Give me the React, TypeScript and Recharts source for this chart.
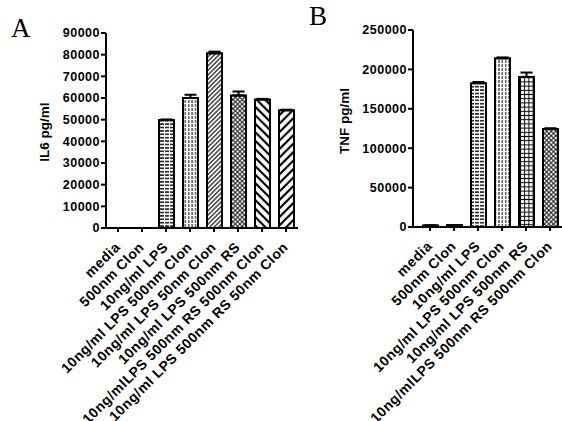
import React from "react";
import { BarChart, Bar, XAxis, YAxis, Cell, ErrorBar } from "recharts";

const il6Labels = [
  "media",
  "500nm Clon",
  "10ng/ml LPS",
  "10ng/ml LPS 500nm Clon",
  "10ng/ml LPS 50nm Clon",
  "10ng/ml LPS 500nm RS",
  "10ng/mlLPS 500nm RS 500nm Clon",
  "10ng/ml LPS 500nm RS 50nm Clon",
];
const il6Values = [0, 0, 49800, 60000, 80600, 61200, 59300, 54300];
const il6Errors = [0, 0, 300, 1500, 800, 1800, 300, 300];
const il6Fills = ["none", "none", "hlines", "vlines", "fineDiag", "cross", "wideBack", "wideFwd"];
const il6Ticks = [0, 10000, 20000, 30000, 40000, 50000, 60000, 70000, 80000, 90000];

const tnfLabels = [
  "media",
  "500nm Clon",
  "10ng/ml LPS",
  "10ng/ml LPS 500nm Clon",
  "10ng/ml LPS 500nm RS",
  "10ng/mlLPS 500nm RS 500nm Clon",
];
const tnfValues = [2000, 2500, 182500, 214000, 190500, 124500];
const tnfErrors = [0, 0, 1500, 1200, 5500, 800];
const tnfFills = ["solid", "solid", "hlines", "vlines", "grid", "cross"];
const tnfTicks = [0, 50000, 100000, 150000, 200000, 250000];

const FONT = "'Liberation Sans', Arial, sans-serif";

const toRows = (labels: string[], values: number[], errors: number[]) =>
  labels.map((name, i) => ({ name, value: values[i], err: [0, errors[i]] }));

const fillFor = (key: string) => {
  if (key === "none") return "#fff";
  if (key === "solid") return "#000";
  return `url(#${key})`;
};

function AngledTick(props: any) {
  const { x, y, payload } = props;
  const ax = x + 3;
  const ay = y + 14;
  return (
    <text
      x={ax}
      y={ay}
      transform={`rotate(-45, ${ax}, ${ay})`}
      textAnchor="end"
      fontFamily={FONT}
      fontWeight="bold"
      fontSize={14}
      letterSpacing={0.5}
      fill="#000"
    >
      {payload.value}
    </text>
  );
}

function Patterns() {
  return (
    <svg width={0} height={0} style={{ position: "absolute" }}>
      <defs>
        <pattern id="hlines" patternUnits="userSpaceOnUse" width={5} height={3.4}>
          <rect width={5} height={3.4} fill="#fff" />
          <line x1={0} y1={1.7} x2={4} y2={1.7} stroke="#000" strokeWidth={1.4} />
        </pattern>
        <pattern id="vlines" patternUnits="userSpaceOnUse" width={3.4} height={4}>
          <rect width={3.4} height={4} fill="#fff" />
          <line x1={1.7} y1={0} x2={1.7} y2={3} stroke="#000" strokeWidth={1} />
        </pattern>
        <pattern id="fineDiag" patternUnits="userSpaceOnUse" width={3.2} height={3.2} patternTransform="rotate(45)">
          <rect width={3.2} height={3.2} fill="#fff" />
          <line x1={1.6} y1={0} x2={1.6} y2={3.2} stroke="#000" strokeWidth={1.1} />
        </pattern>
        <pattern id="cross" patternUnits="userSpaceOnUse" width={3.2} height={3.2} patternTransform="rotate(45)">
          <rect width={3.2} height={3.2} fill="#fff" />
          <line x1={1.6} y1={0} x2={1.6} y2={3.2} stroke="#000" strokeWidth={0.9} />
          <line x1={0} y1={1.6} x2={3.2} y2={1.6} stroke="#000" strokeWidth={0.9} />
        </pattern>
        <pattern id="wideBack" patternUnits="userSpaceOnUse" width={6} height={6} patternTransform="rotate(-45)">
          <rect width={6} height={6} fill="#fff" />
          <line x1={3} y1={0} x2={3} y2={6} stroke="#000" strokeWidth={2.2} />
        </pattern>
        <pattern id="wideFwd" patternUnits="userSpaceOnUse" width={6} height={6} patternTransform="rotate(45)">
          <rect width={6} height={6} fill="#fff" />
          <line x1={3} y1={0} x2={3} y2={6} stroke="#000" strokeWidth={2.2} />
        </pattern>
        <pattern id="grid" patternUnits="userSpaceOnUse" width={4.2} height={4.2}>
          <rect width={4.2} height={4.2} fill="#fff" />
          <line x1={2.1} y1={0} x2={2.1} y2={4.2} stroke="#000" strokeWidth={1} />
          <line x1={0} y1={2.1} x2={4.2} y2={2.1} stroke="#000" strokeWidth={1} />
        </pattern>
      </defs>
    </svg>
  );
}

const tickStyle = { fontFamily: FONT, fontWeight: "bold", fontSize: 12.5, fill: "#000", letterSpacing: 0.5 } as any;

export default function App() {
  const il6 = toRows(il6Labels, il6Values, il6Errors);
  const tnf = toRows(tnfLabels, tnfValues, tnfErrors);

  return (
    <div style={{ position: "absolute", left: 0, top: 0, width: 562, height: 421, background: "#fff", overflow: "hidden" }}>
      <Patterns />
      <div style={{ position: "absolute", left: 11, top: 13, fontFamily: "'Liberation Serif', serif", fontSize: 27 }}>A</div>
      <div style={{ position: "absolute", left: 309, top: 1, fontFamily: "'Liberation Serif', serif", fontSize: 27 }}>B</div>
      <div
        style={{
          position: "absolute", left: -5, top: 124, width: 100, textAlign: "center",
          transform: "rotate(-90deg)", fontFamily: FONT, fontWeight: "bold", fontSize: 13.5, lineHeight: "16px",
        }}
      >
        IL6 pg/ml
      </div>
      <div
        style={{
          position: "absolute", left: 295, top: 113, width: 100, textAlign: "center",
          transform: "rotate(-90deg)", fontFamily: FONT, fontWeight: "bold", fontSize: 13.5, lineHeight: "16px",
        }}
      >
        TNF pg/ml
      </div>

      <div style={{ position: "absolute", left: 0, top: 0 }}>
        <BarChart width={300} height={421} data={il6} margin={{ top: 33, right: 2, left: 0, bottom: 0 }}>
          <YAxis
            width={106}
            domain={[0, 90000]}
            ticks={il6Ticks}
            interval={0}
            tick={tickStyle}
            tickSize={5}
            tickMargin={1}
            axisLine={{ stroke: "#000", strokeWidth: 2 }}
            tickLine={{ stroke: "#000", strokeWidth: 2 }}
          />
          <XAxis
            dataKey="name"
            interval={0}
            height={193}
            tick={<AngledTick />}
            tickSize={4}
            axisLine={{ stroke: "#000", strokeWidth: 2 }}
            tickLine={{ stroke: "#000", strokeWidth: 2 }}
          />
          <Bar dataKey="value" barSize={15} stroke="#000" strokeWidth={2} isAnimationActive={false}>
            {il6.map((_, i) => (
              <Cell key={i} fill={fillFor(il6Fills[i])} strokeWidth={il6Values[i] === 0 ? 0 : 2} />
            ))}
            <ErrorBar dataKey="err" width={6} stroke="#000" strokeWidth={2} />
          </Bar>
        </BarChart>
      </div>

      <div style={{ position: "absolute", left: 300, top: 0 }}>
        <BarChart width={262} height={421} data={tnf} margin={{ top: 30, right: 0, left: 0, bottom: 0 }}>
          <YAxis
            width={113}
            domain={[0, 250000]}
            ticks={tnfTicks}
            interval={0}
            tick={tickStyle}
            tickSize={5}
            tickMargin={1}
            axisLine={{ stroke: "#000", strokeWidth: 2 }}
            tickLine={{ stroke: "#000", strokeWidth: 2 }}
          />
          <XAxis
            dataKey="name"
            interval={0}
            height={194}
            padding={{ left: 5, right: 0 }}
            tick={<AngledTick />}
            tickSize={4}
            axisLine={{ stroke: "#000", strokeWidth: 2 }}
            tickLine={{ stroke: "#000", strokeWidth: 2 }}
          />
          <Bar dataKey="value" barSize={15} stroke="#000" strokeWidth={2} isAnimationActive={false}>
            {tnf.map((_, i) => (
              <Cell key={i} fill={fillFor(tnfFills[i])} />
            ))}
            <ErrorBar dataKey="err" width={6} stroke="#000" strokeWidth={2} />
          </Bar>
        </BarChart>
      </div>
    </div>
  );
}
